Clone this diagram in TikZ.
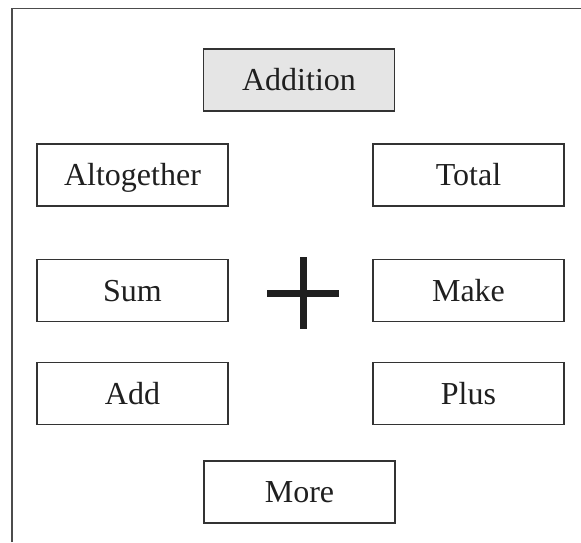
\documentclass[tikz,border=0pt]{standalone}
\usepackage{fontspec}
\setmainfont{Liberation Serif}
\begin{document}
\begin{tikzpicture}[x=1pt,y=-1pt,
  wordbox/.style={draw=black!80,line width=1.3pt,minimum width=191pt,minimum height=62pt,inner sep=0pt,
    text height=21pt,text depth=-4.5pt,
    font=\fontsize{32}{36}\selectfont,text=black!88},
  frameline/.style={draw=black!70,line width=1.6pt}]
\useasboundingbox (0,0) rectangle (581,542);
\draw[frameline] (12,542) -- (12,8.5) -- (581,8.5);
\node[wordbox,fill=black!10] (addition) at (299,80) {Addition};
\node[wordbox] (altogether) at (132.5,175) {Altogether};
\node[wordbox] (total) at (468.5,175) {Total};
\node[wordbox] (sum) at (132.5,290.5) {Sum};
\node[wordbox] (make) at (468.5,290.5) {Make};
\node[wordbox] (add) at (132.5,393.5) {Add};
\node[wordbox] (plus) at (468.5,393.5) {Plus};
\node[wordbox] (more) at (299.5,492) {More};
\fill[black!88] (299.5,257) rectangle (307,329);
\fill[black!88] (267,289.5) rectangle (339,297);
\end{tikzpicture}
\end{document}
